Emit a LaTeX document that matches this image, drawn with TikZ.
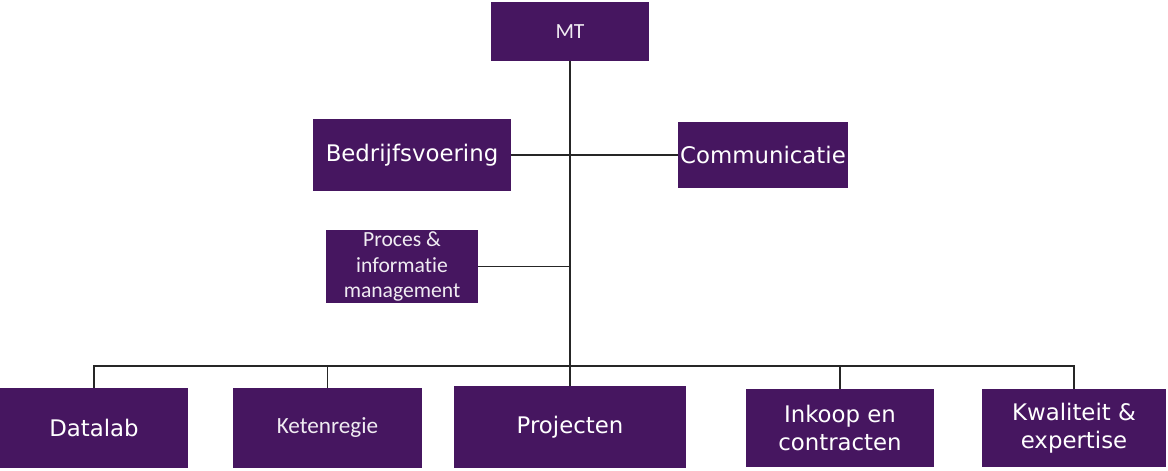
\documentclass[tikz,border=0pt]{standalone}
\usepackage{fontspec}
\setmainfont{DejaVu Sans}
\newfontfamily\thinfont[Ligatures=NoCommon]{Carlito}
\usepackage{xcolor}
\usetikzlibrary{positioning}

\definecolor{unitpurple}{RGB}{70,22,96}

\begin{document}
\begin{tikzpicture}[
  x=0.02cm, y=-0.02cm,
  unit/.style = {rectangle, fill=unitpurple, text=white, inner sep=0pt, align=center,
                 font=\fontsize{13}{16}\selectfont},
  thinunit/.style = {unit, text=white!92!unitpurple, font=\thinfont\fontsize{12.3}{14.5}\selectfont},
  link/.style = {draw=black!85, line width=1pt}
]
\useasboundingbox (0,0) rectangle (1168,470);

\node[thinunit, minimum width=3.16cm, minimum height=1.18cm] (mt) at (570,31.5) {MT};
\node[unit, minimum width=3.96cm, minimum height=1.46cm] (bedrijf) at (412,155) {Bedrijfsvoering};
\node[unit, minimum width=3.4cm, minimum height=1.34cm] (comm) at (763,155) {Communicatie};
\node[thinunit, minimum width=3.04cm, minimum height=1.46cm] (proces) at (402,266.5) {Proces \&\\informatie\\management};

\node[unit, minimum width=3.76cm, minimum height=1.6cm] (datalab) at (94,428) {Datalab};
\node[thinunit, font=\thinfont\fontsize{13.2}{14}\selectfont, minimum width=3.78cm, minimum height=1.6cm] (keten) at (327.5,428) {Ketenregie};
\node[unit, minimum width=4.64cm, minimum height=1.64cm] (proj) at (570,427) {Projecten};
\node[unit, minimum width=3.76cm, minimum height=1.56cm] (inkoop) at (840,428) {Inkoop en\\contracten};
\node[unit, minimum width=3.68cm, minimum height=1.56cm] (kwal) at (1074,428) {Kwaliteit \&\\expertise};

\coordinate (bus) at (570,366);

\draw[link] (mt.south) -- (proj.north);
\draw[link] (bedrijf.east) -- (comm.west);
\draw[link] (proces.east) -- (proces.east -| mt.south);
\draw[link] (datalab.north) |- (bus) -| (kwal.north);
\draw[link] (keten.north) -- (keten.north |- bus);
\draw[link] (inkoop.north) -- (inkoop.north |- bus);

\end{tikzpicture}
\end{document}
